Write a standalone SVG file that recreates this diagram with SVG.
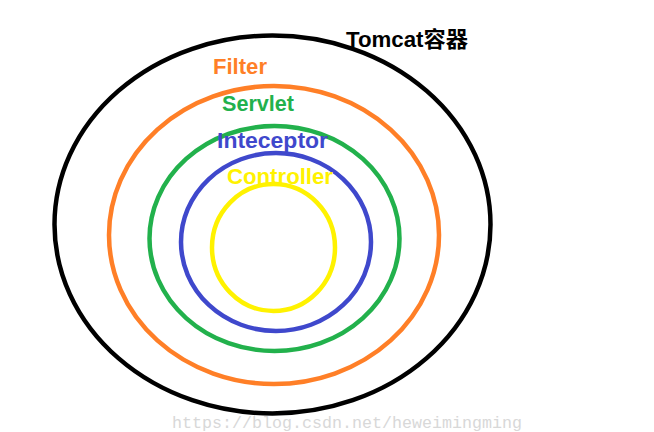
<svg xmlns="http://www.w3.org/2000/svg" width="654" height="432" viewBox="0 0 654 432">
<style>
.ring{fill:none;stroke-width:4.5}
.lbl{font-family:"Liberation Sans","Noto Sans CJK SC",sans-serif;font-weight:bold;font-size:21.5px}
.wm{font-family:"Liberation Mono",monospace;font-size:16.6px;fill:#d8d8d8}
</style>
<rect width="654" height="432" fill="#fff"/>
<g id="tomcat">
<ellipse class="ring" cx="272.5" cy="224.5" rx="218" ry="189" stroke="#000"/>
<text class="lbl" x="346" y="47" fill="#000" textLength="122" lengthAdjust="spacingAndGlyphs">Tomcat容器</text>
</g>
<g id="filter">
<ellipse class="ring" cx="274" cy="235" rx="165" ry="149" stroke="#ff7f27"/>
<text class="lbl" x="213" y="74" fill="#ff7f27" textLength="54" lengthAdjust="spacingAndGlyphs">Filter</text>
</g>
<g id="servlet">
<ellipse class="ring" cx="274.5" cy="238.5" rx="125" ry="112.5" stroke="#22b14c"/>
<text class="lbl" x="222" y="111" fill="#22b14c" textLength="72" lengthAdjust="spacingAndGlyphs">Servlet</text>
</g>
<g id="inteceptor">
<ellipse class="ring" cx="276" cy="242" rx="95" ry="89" stroke="#3f48cc"/>
<text class="lbl" x="217" y="148" fill="#3f48cc" textLength="111" lengthAdjust="spacingAndGlyphs">Inteceptor</text>
</g>
<g id="controller">
<ellipse class="ring" cx="273.5" cy="247.5" rx="61.5" ry="63.5" stroke="#fff200"/>
<text class="lbl" x="227" y="184" fill="#fff200" textLength="106" lengthAdjust="spacingAndGlyphs">Controller</text>
</g>
<g id="connectors"/>
<text class="wm" x="172" y="428" textLength="350" lengthAdjust="spacingAndGlyphs">https://blog.csdn.net/heweimingming</text>
</svg>
